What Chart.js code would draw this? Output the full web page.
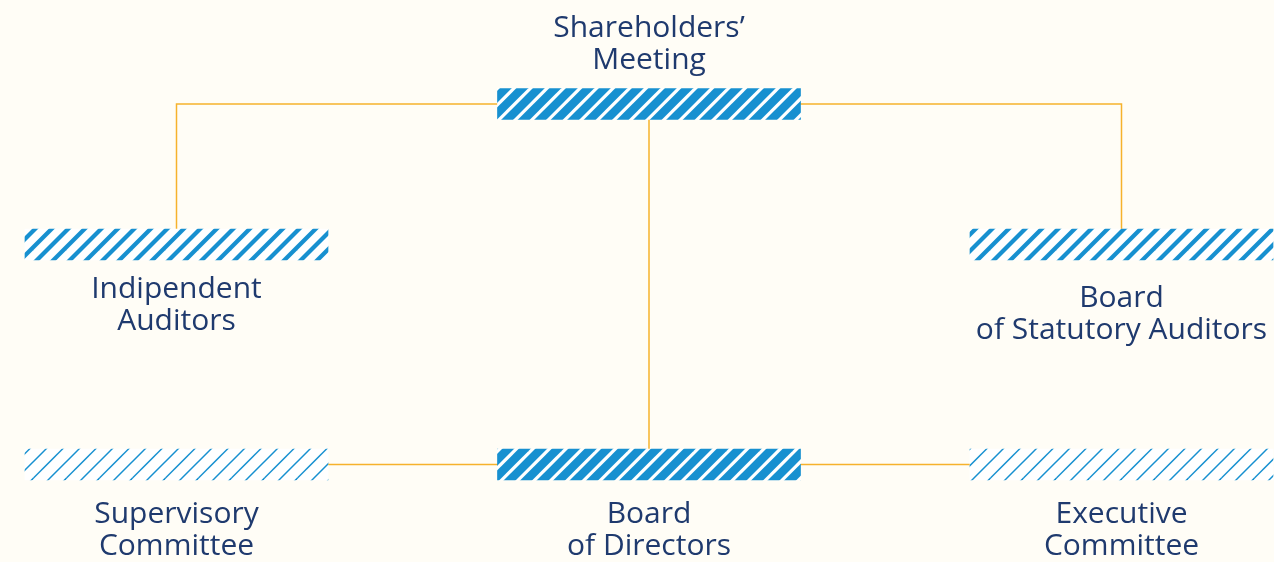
<!DOCTYPE html>
<html>
<head>
<meta charset="utf-8">
<script src="https://cdn.jsdelivr.net/npm/chart.js@4.4.1/dist/chart.umd.min.js"></script>
<style>
  html, body { margin: 0; padding: 0; background: #FFFDF6; }
  #wrap { width: 1274px; height: 562px; position: relative; }
</style>
</head>
<body>
<div id="wrap"><canvas id="c"></canvas></div>
<script>
// ---- data (x in column units: 0 = left, 1 = centre, 2 = right; y = vertical tier position) ----
const nodeNames   = ["Shareholders’\nMeeting", "Indipendent\nAuditors", "Board\nof Statutory Auditors",
                     "Supervisory\nCommittee", "Board\nof Directors", "Executive\nCommittee"];
const nodeColumn  = [1, 0, 2, 0, 1, 2];
const nodeTier    = [104, 244.5, 244.5, 464.5, 464.5, 464.5];
const nodeHatch   = ["dense", "medium", "medium", "thin", "dense", "thin"];
const nodeSpan    = 0.6413;   // box width, column units
// connectors as column/tier point paths
const connectorCols  = [[0, 0, 1], [2, 2, 1], [1, 1], [0, 1], [1, 2]];
const connectorTiers = [[244.5, 104, 104], [244.5, 104, 104], [104, 464.5], [464.5, 464.5], [464.5, 464.5]];

// ---- styles / layout ----
const BLUE = '#1790D0', ORANGE = '#F6B22C', TEXT = '#1F3A6E';
const hatchWidths = { dense: 8.4, medium: 4.2, thin: 1.5 };
const labelOffsets = [[-67, -35.5], [53.5, 85.5], [62.5, 94.5], [58.5, 90.5], [58.5, 90.5], [58.5, 90.5]];

function hatch(w) {
  const T = 33, p = 16.5;
  const c = document.createElement('canvas');
  c.width = T; c.height = T;
  const g = c.getContext('2d');
  g.fillStyle = '#FFFFFF'; g.fillRect(0, 0, T, T);
  g.strokeStyle = BLUE; g.lineWidth = w;
  for (let o = -T; o <= T; o += p) {
    g.beginPath(); g.moveTo(o - 3, T + 3); g.lineTo(o + T + 3, -3); g.stroke();
  }
  return g.createPattern(c, 'repeat');
}
const patterns = {};
Object.keys(hatchWidths).forEach(k => patterns[k] = hatch(hatchWidths[k]));

const lineSets = connectorCols.map((cols, i) => ({
  type: 'line',
  data: cols.map((cx, j) => ({ x: cx, y: connectorTiers[i][j] })),
  borderColor: ORANGE, borderWidth: 1.5, pointRadius: 0, fill: false, tension: 0,
  order: 2
}));

const barSet = {
  type: 'bar',
  indexAxis: 'y',
  data: nodeColumn.map((cx, i) => ({ y: nodeTier[i], x: [cx - nodeSpan / 2, cx + nodeSpan / 2] })),
  backgroundColor: nodeHatch.map(h => patterns[h]),
  borderWidth: 0,
  borderRadius: 0,
  barThickness: 31,
  order: 1
};

const labelPlugin = {
  id: 'nodeLabels',
  afterDatasetsDraw(chart) {
    const { ctx, scales: { x, y } } = chart;
    ctx.save();
    ctx.fillStyle = TEXT;
    ctx.font = '30px "Open Sans", "Noto Sans", sans-serif';
    ctx.textAlign = 'center';
    ctx.textBaseline = 'alphabetic';
    nodeNames.forEach((name, i) => {
      const px = x.getPixelForValue(nodeColumn[i]);
      const py = y.getPixelForValue(nodeTier[i]);
      name.split('\n').forEach((line, j) => ctx.fillText(line, px, py + labelOffsets[i][j]));
    });
    ctx.restore();
  }
};

const colPx = 472.5, firstColPx = 176.5;
new Chart(document.getElementById('c'), {
  data: { datasets: [...lineSets, barSet] },
  options: {
    responsive: true,
    maintainAspectRatio: false,
    animation: false,
    layout: { padding: 0 },
    plugins: { legend: { display: false }, tooltip: { enabled: false } },
    scales: {
      x: { type: 'linear', display: false, offset: false, min: -firstColPx / colPx, max: (1274 - firstColPx) / colPx },
      y: { type: 'linear', display: false, offset: false, min: 0, max: 562, reverse: true }
    }
  },
  plugins: [labelPlugin]
});
</script>
</body>
</html>
